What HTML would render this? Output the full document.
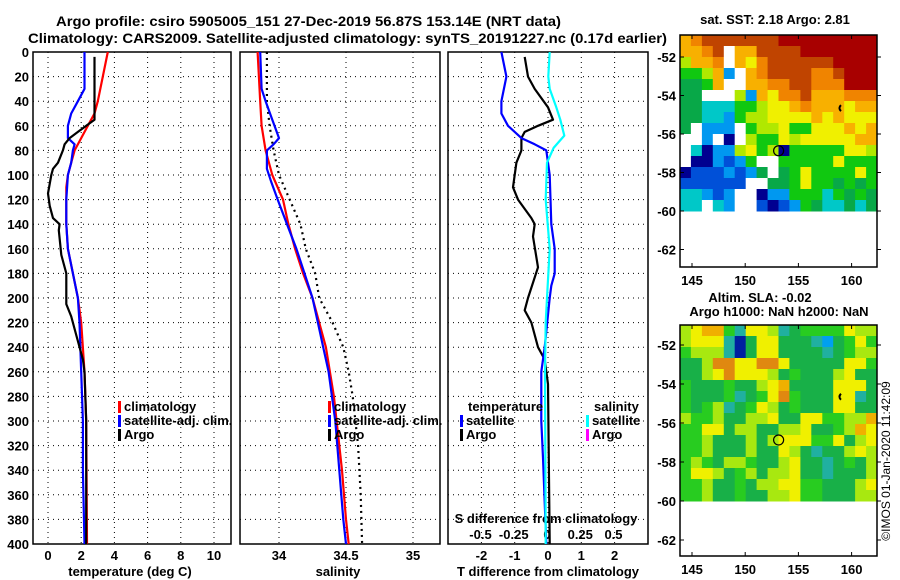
<!DOCTYPE html>
<html><head><meta charset="utf-8">
<style>
html,body{margin:0;padding:0;background:#fff;}
svg{display:block;font-family:"Liberation Sans",sans-serif;font-weight:bold;}
</style></head>
<body>
<svg id="chart" width="900" height="580" viewBox="0 0 900 580" xmlns="http://www.w3.org/2000/svg">
<text x="56" y="26" font-size="14" textLength="505" lengthAdjust="spacingAndGlyphs">Argo profile: csiro 5905005_151 27-Dec-2019 56.87S 153.14E (NRT data)</text>
<text x="28" y="43" font-size="14" textLength="639" lengthAdjust="spacingAndGlyphs">Climatology: CARS2009. Satellite-adjusted climatology: synTS_20191227.nc (0.17d earlier)</text>
<g id="g"></g>
</svg>
<script>
// ---------- data ----------
const depthTicks=[0,20,40,60,80,100,120,140,160,180,200,220,240,260,280,300,320,340,360,380,400];
const tempTicks=[0,2,4,6,8,10];
const salTicks=[34,34.5,35];
const salTickLabels=["34","34.5","35"];
const tdiffTicks=[-2,-1,0,1,2];
const sdiffTicks=[-0.5,-0.25,0,0.25,0.5];
const sdiffTickLabels=["-0.5","-0.25","0","0.25","0.5"];

const climTDepth=[0,40,50,60,70,80,90,100,110,140,160,180,200,220,260,300,400];
const climT=[3.6,3.0,2.8,2.4,2.0,1.6,1.4,1.2,1.1,1.1,1.2,1.5,1.8,2.0,2.2,2.3,2.35];
const satTDepth=[0,30,40,50,60,70,75,80,90,100,120,140,160,180,200,220,260,300,340,400];
const satT=[2.2,2.2,1.8,1.4,1.2,1.2,1.6,1.5,1.4,1.2,1.1,1.1,1.2,1.5,1.8,1.9,2.0,2.1,2.1,2.2];
const argoTDepth=[4,55,60,65,70,75,80,90,95,100,115,125,135,140,145,165,180,205,215,230,250,260,300,400];
const argoT=[2.8,2.8,2.3,1.8,1.3,1.0,0.9,0.6,0.3,0.2,0.0,0.1,0.3,0.7,0.65,0.8,1.1,1.1,1.4,1.7,2.1,2.2,2.3,2.3];

const climSDepth=[0,40,60,80,100,120,140,160,180,200,220,240,260,280,300,340,380,400];
const climS=[33.84,33.86,33.87,33.9,33.95,34.03,34.07,34.12,34.18,34.25,34.3,34.35,34.38,34.41,34.43,34.47,34.5,34.52];
const satSDepth=[0,30,40,55,70,75,80,95,105,120,140,160,180,200,220,240,260,300,340,380,400];
const satS=[33.86,33.87,33.9,33.95,34.0,33.96,33.91,33.91,33.94,33.99,34.06,34.13,34.19,34.25,34.29,34.33,34.37,34.42,34.45,34.48,34.5];
const argoSDepth=[0,40,60,80,100,120,140,160,180,200,220,240,260,280,320,360,400];
const argoS=[33.91,33.91,33.93,33.96,34.0,34.08,34.16,34.2,34.27,34.3,34.4,34.48,34.52,34.55,34.59,34.61,34.62];

const satTdDepth=[0,20,40,50,60,70,75,80,100,140,160,180,190,200,240,260,300,330,400];
const satTd=[-1.4,-1.25,-1.4,-1.4,-1.2,-0.8,-0.4,-0.05,0.05,0.1,0.2,0.2,0.1,0.05,-0.1,-0.2,-0.2,-0.15,-0.05];
const argoTdDepth=[4,20,30,45,55,60,65,70,80,90,100,110,120,135,140,150,175,200,210,220,240,250,270,400];
const argoTd=[-0.7,-0.6,-0.4,0.0,0.15,-0.3,-0.7,-0.8,-0.8,-0.95,-1.0,-1.05,-0.9,-0.5,-0.4,-0.45,-0.3,-0.6,-0.7,-0.5,-0.3,-0.1,0.0,0.05];
const satSdDepth=[0,20,30,45,55,68,78,90,120,160,200,220,260,400];
const satSd=[0.02,0.01,0.02,0.07,0.1,0.13,0.05,0.0,-0.01,0.02,0.0,-0.01,-0.015,-0.01];

const lonTicks=[145,150,155,160];
const latTicks=[-52,-54,-56,-58,-60,-62];
const argoLon=153.14, argoLat=-56.87;

const sstGrid=[
"OorrrrrrrRRRRRRRRR",
"OOorwOOrrrrRRRRRRR",
"lOOowOyorrrrrrRRRR",
"gglObwOorrrroorRRR",
"GGgOwwOOoorroooRRR",
"GGwwwlbOyoorOOOooo",
"GGcccgglyyOoOOOyOO",
"GGccbgllyyyyOyOyyy",
"GwbbbwgllyggyyyOyO",
"wwbwnwlggylyyyyyOO",
"wcnbblyglngggggyyl",
"wnnbBbgwwgggggyggg",
"nBBBbBbGwGgyggggyg",
"BBBBBBwwGGgyggGgGg",
"ccbBbwwnbbgggcgGgG",
"ccwcbwwBnBbgGccGcG"];
const slaGrid=[
"lyoogtyyltGggggyll",
"lyyytnGyyGGGtbGgyg",
"gllltnGyyGGGGtGgll",
"GGlOOyyOOyGGGGGyyg",
"GGlyOyyylGgGGGlyGG",
"gGGGgGGlyoGGGGyyyG",
"gGGGgtGgyOgGGGyytG",
"gGgltGgylGgGGGyyGG",
"lgglGGllyGGyyggllo",
"ggyyGllGGllyGGgloy",
"gglGGGlGlyyyggyGly",
"gglGGGlGGylGtGGlyl",
"glgGllgGGlyGGtGgGl",
"gyylGglGllyGGtGGGl",
"gglGGgGllyyggGGGly",
"gglGGgGGllyggGGGll"];

// ---------- drawing ----------
const NS="http://www.w3.org/2000/svg";
const G=document.getElementById('g');
function el(tag,attrs,parent){const e=document.createElementNS(NS,tag);for(const k in attrs)e.setAttribute(k,attrs[k]);(parent||G).appendChild(e);return e;}
function txt(s,x,y,size,anchor,name,parent){const t=el('text',{x:x,y:y,'font-size':size,'text-anchor':anchor||'middle'},parent);t.textContent=s;


return t;}

const PT=52,PB=544;
const yD=d=>PT+(d/400)*(PB-PT);
const xT=v=>48+v*16.6;
const xS=v=>279+(v-34)*134;
const xTd=v=>548+v*33.3;
const xSd=v=>547+v*133;
const panels=[[33,231],[240,440],[448,648]];

panels.forEach((p,i)=>{
  const pg=el('g',{});
  
  
  depthTicks.forEach(d=>{if(d>0&&d<400){const l=el('line',{x1:p[0],x2:p[1],y1:yD(d),y2:yD(d),stroke:'#000','stroke-width':1,'stroke-dasharray':'1,4'},pg);
  
  }});
  const xt=i==0?tempTicks.map(xT):i==1?salTicks.map(xS):tdiffTicks.map(xTd);
  xt.forEach(x=>{const l=el('line',{x1:x,x2:x,y1:PT,y2:PB,stroke:'#000','stroke-width':1,'stroke-dasharray':'1,4'},pg);
  
  });
  const r=el('rect',{x:p[0],y:PT,width:p[1]-p[0],height:PB-PT,fill:'none',stroke:'#000','stroke-width':1.5},pg);
  
  
});
depthTicks.forEach(d=>txt(String(d),29,yD(d)+5,13,'end','depth-tick-label'));
tempTicks.forEach(v=>txt(String(v),xT(v),560,13,'middle','temp-tick-label'));
salTicks.forEach((v,i)=>txt(salTickLabels[i],xS(v),560,13,'middle','salinity-tick-label'));
tdiffTicks.forEach(v=>txt(String(v),xTd(v),560,13,'middle','tdiff-tick-label'));
sdiffTicks.forEach((v,i)=>txt(sdiffTickLabels[i],xSd(v),539,13,'middle','sdiff-tick-label'));
txt('temperature (deg C)',130,576,13,'middle','temp-axis-title');
txt('salinity',338,576,13,'middle','salinity-axis-title');
txt('T difference from climatology',548,576,13,'middle','tdiff-axis-title');
txt('S difference from climatology',546,523,13,'middle','sdiff-axis-title');

function line(xs,ds,xf,color,name,dash){
  const pts=xs.map((v,i)=>xf(v).toFixed(1)+','+yD(ds[i]).toFixed(1)).join(' ');
  const pl=el('polyline',{points:pts,fill:'none',stroke:color,'stroke-width':2.2,'stroke-linejoin':'round'});
  if(dash)pl.setAttribute('stroke-dasharray',dash);
  
  
}
line(climT,climTDepth,xT,'#ff0000','climatology-temp-line');
line(satT,satTDepth,xT,'#0000ff','satellite-temp-line');
line(argoT,argoTDepth,xT,'#000000','argo-temp-line');
line(argoS,argoSDepth,xS,'#000000','argo-salinity-line','2,4');
line(climS,climSDepth,xS,'#ff0000','climatology-salinity-line');
line(satS,satSDepth,xS,'#0000ff','satellite-salinity-line');
line(argoTd,argoTdDepth,xTd,'#000000','argo-tdiff-line');
line(satTd,satTdDepth,xTd,'#0000ff','satellite-tdiff-line');
line(satSd,satSdDepth,xSd,'#00ffff','satellite-sdiff-line');

function legend(x,y,color,label,name){
  const m=el('rect',{x:x,y:y-10,width:3,height:12,fill:color});
  
  
  txt(label,x+6,y,13,'start',name);
}
legend(118,411,'#ff0000','climatology','legend-climatology');
legend(118,425,'#0000ff','satellite-adj. clim.','legend-satellite-adj');
legend(118,439,'#000000','Argo','legend-argo');
legend(328,411,'#ff0000','climatology','legend-sal-climatology');
legend(328,425,'#0000ff','satellite-adj. clim.','legend-sal-satellite-adj');
legend(328,439,'#000000','Argo','legend-sal-argo');
txt('temperature',468,411,13,'start','legend-temperature-header');
legend(460,425,'#0000ff','satellite','legend-tdiff-satellite');
legend(460,439,'#000000','Argo','legend-tdiff-argo');
txt('salinity',594,411,13,'start','legend-salinity-header');
legend(586,425,'#00ffff','satellite','legend-sdiff-satellite');
legend(586,439,'#ff00ff','Argo','legend-sdiff-argo');

// maps
const colors={R:'#a80000',r:'#c04400',o:'#f08400',O:'#f8b000',y:'#f0f000',l:'#b0e800',g:'#10c810',G:'#08a848',c:'#00c8c8',b:'#0098f0',B:'#0050d8',n:'#000090',w:'#ffffff',t:'#10a8a0'};
const slaColors={g:'#28cc20',G:'#18b048',l:'#a8e810',y:'#f0f000',o:'#f0b000',O:'#e08810',t:'#20b0a0',b:'#00a0f0',n:'#0020a0'};
function map(top,bottom,dataBottom,latAt52,pxPerDeg,grid,cols,name){
  const L=680,R=877,lonX=v=>692+(v-145)*10.64,latY=v=>latAt52+(-52-v)*pxPerDeg;
  const mg=el('g',{});
  
  
  const nr=grid.length,nc=grid[0].length,cw=(R-L)/nc,ch=(dataBottom-top)/nr;
  grid.forEach((row,ri)=>{for(let ci=0;ci<nc;ci++){const c=el('rect',{x:(L+ci*cw).toFixed(1),y:(top+ri*ch).toFixed(1),width:(cw+0.5).toFixed(1),height:(ch+0.5).toFixed(1),fill:cols[row[ci]]},mg);
    
    }});
  const f=el('rect',{x:L,y:top,width:R-L,height:bottom-top,fill:'none',stroke:'#000','stroke-width':1.5},mg);
  
  
  lonTicks.forEach(v=>{el('line',{x1:lonX(v),x2:lonX(v),y1:top,y2:top+4,stroke:'#000'},mg);el('line',{x1:lonX(v),x2:lonX(v),y1:bottom,y2:bottom-4,stroke:'#000'},mg);
    txt(String(v),lonX(v),bottom+18,13,'middle','lon-tick-label');});
  latTicks.forEach(v=>{el('line',{x1:L,x2:L+4,y1:latY(v),y2:latY(v),stroke:'#000'},mg);el('line',{x1:R,x2:R+4,y1:latY(v),y2:latY(v),stroke:'#000'},mg);
    txt(String(v),L-4,latY(v)+5,13,'end','lat-tick-label');});
  const c=el('circle',{cx:lonX(argoLon),cy:latY(argoLat),r:5,fill:'none',stroke:'#000','stroke-width':1.2},mg);
  
  
  const k=el('path',{d:`M${lonX(159)} ${latY(-54.5)} q-3 3 0 6`,fill:'none',stroke:'#000','stroke-width':2},mg);
  
  
}
map(35,267,211,57,19.25,sstGrid,colors,'sst-map');
map(325,556,501,345,19.5,slaGrid,slaColors,'sla-map');
txt('sat. SST: 2.18 Argo: 2.81',775,24,13,'middle','sst-map-title');
txt('Altim. SLA: -0.02',760,302,13,'middle','sla-map-title');
txt('Argo h1000: NaN h2000: NaN',779,316,13,'middle','sla-map-subtitle');
const im=txt('©IMOS 01-Jan-2020 11:42:09',0,0,12,'middle','imos-timestamp');
im.setAttribute('font-weight','normal');
im.setAttribute('transform','translate(890,461) rotate(-90)');
</script>
</body></html>
